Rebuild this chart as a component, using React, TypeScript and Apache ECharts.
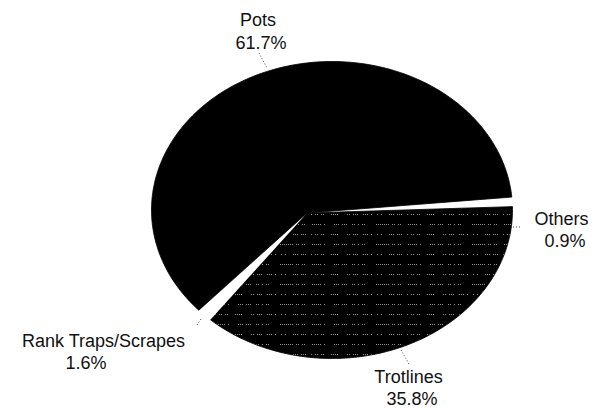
import React, { useEffect, useRef } from "react";
import * as echarts from "echarts";

// Gear types, listed clockwise from the Others/Pots boundary on the right
const categories = ["Others", "Trotlines", "Rank Traps/Scrapes", "Pots"];
// Share of each gear type, in percent
const shares = [0.9, 35.8, 1.6, 61.7];

// ---- layout ----
const WIDTH = 595;
const HEIGHT = 408;
const OUTLINE = { cx: 332, cy: 210, rx: 180.5, ry: 148.5 };
const HUB = { x: 307, y: 213 };
const START_DEG = -5.4;
const FONT = "Liberation Sans, Arial, Helvetica, sans-serif";
const TEXT_COLOR = "#111";

type LabelLayout = {
  name: [number, number];
  pct: [number, number];
  leader: [number, number][];
};

const LABEL_LAYOUT: Record<string, LabelLayout> = {
  Pots: { name: [258, 19.5], pct: [261, 43], leader: [[259, 53], [267, 68]] },
  Others: { name: [561.5, 218.5], pct: [565, 240.5], leader: [[513, 227], [521, 227]] },
  Trotlines: { name: [408.5, 376.5], pct: [412, 398.5], leader: [[401, 350], [409, 364]] },
  "Rank Traps/Scrapes": { name: [103.5, 341], pct: [86, 363], leader: [[197, 325], [201, 319]] },
};

const total = shares.reduce((s, v) => s + v, 0);
const cumulative = shares.map((_, i) => shares.slice(0, i).reduce((s, v) => s + v, 0));

// Where a ray leaving the hub at angle deg (measured in the circle's frame) meets the outline
function rimPoint(deg: number): [number, number] {
  const a = (deg * Math.PI) / 180;
  const dx = Math.cos(a);
  const dy = Math.sin(a) * (OUTLINE.ry / OUTLINE.rx);
  const px = (HUB.x - OUTLINE.cx) / OUTLINE.rx;
  const py = (HUB.y - OUTLINE.cy) / OUTLINE.ry;
  const ux = dx / OUTLINE.rx;
  const uy = dy / OUTLINE.ry;
  const A = ux * ux + uy * uy;
  const B = px * ux + py * uy;
  const C = px * px + py * py - 1;
  const t = (-B + Math.sqrt(B * B - A * C)) / A;
  return [HUB.x + dx * t, HUB.y + dy * t];
}

// Black tile with two sparse dotted rows, used for the Trotlines slice
const TILE_W = 96;
const TILE_H = 20;
const ROW_A = "11101101100011111010000111011100110101100000111";
const ROW_B = "00111011100101101100011110000110111001110100101";
function makeHatch(): HTMLCanvasElement {
  const c = document.createElement("canvas");
  c.width = TILE_W;
  c.height = TILE_H;
  const g = c.getContext("2d")!;
  g.fillStyle = "#000";
  g.fillRect(0, 0, TILE_W, TILE_H);
  g.fillStyle = "#8f8f8f";
  for (let i = 0; i < TILE_W / 2; i++) {
    if (ROW_A[i % ROW_A.length] === "1") g.fillRect(i * 2, 4, 1, 1);
    if (ROW_B[i % ROW_B.length] === "1") g.fillRect(i * 2 + 1, 14, 1, 1);
  }
  return c;
}

export default function App() {
  const ref = useRef<HTMLDivElement>(null);

  useEffect(() => {
    if (!ref.current) return;
    const chart = echarts.init(ref.current, null, { renderer: "svg" });
    const hatch = makeHatch();

    const fills: Record<string, any> = {
      Pots: "#000",
      Trotlines: { image: hatch, repeat: "repeat", imageWidth: TILE_W, imageHeight: TILE_H },
      "Rank Traps/Scrapes": "#fff",
      Others: "#fff",
    };
    const strokes: Record<string, string | null> = {
      Pots: "#000",
      Trotlines: "#000",
      "Rank Traps/Scrapes": null,
      Others: null,
    };

    chart.setOption({
      animation: false,
      backgroundColor: "#fff",
      series: [
        {
          type: "custom",
          coordinateSystem: "none",
          silent: true,
          data: shares.map((v, i) => [cumulative[i], v]),
          renderItem: (params: any, api: any) => {
            const name = categories[params.dataIndex];
            const before = api.value(0) as number;
            const value = api.value(1) as number;
            const a0 = START_DEG + (before / total) * 360;
            const a1 = a0 + (value / total) * 360;
            const steps = Math.max(2, Math.ceil(a1 - a0));
            const pts: [number, number][] = [[HUB.x, HUB.y]];
            for (let i = 0; i <= steps; i++) {
              pts.push(rimPoint(a0 + ((a1 - a0) * i) / steps));
            }
            const lay = LABEL_LAYOUT[name];
            const stroke = strokes[name];
            return {
              type: "group",
              children: [
                {
                  type: "polygon",
                  shape: { points: pts },
                  style: {
                    fill: fills[name],
                    stroke: stroke ?? undefined,
                    lineWidth: stroke ? 0.8 : 0,
                  },
                },
                {
                  type: "polyline",
                  shape: { points: lay.leader },
                  style: { stroke: "#444", lineWidth: 1, lineDash: [1, 2], fill: null },
                },
                {
                  type: "text",
                  x: lay.name[0],
                  y: lay.name[1],
                  style: {
                    text: name,
                    fill: TEXT_COLOR,
                    fontSize: 18,
                    fontFamily: FONT,
                    textAlign: "center",
                    textVerticalAlign: "middle",
                  },
                },
                {
                  type: "text",
                  x: lay.pct[0],
                  y: lay.pct[1],
                  style: {
                    text: `${value.toFixed(1)}%`,
                    fill: TEXT_COLOR,
                    fontSize: 18,
                    fontFamily: FONT,
                    textAlign: "center",
                    textVerticalAlign: "middle",
                  },
                },
              ],
            };
          },
        },
      ],
    });

    return () => chart.dispose();
  }, []);

  return (
    <div
      ref={ref}
      style={{ position: "absolute", left: 0, top: 0, width: WIDTH, height: HEIGHT }}
    />
  );
}
